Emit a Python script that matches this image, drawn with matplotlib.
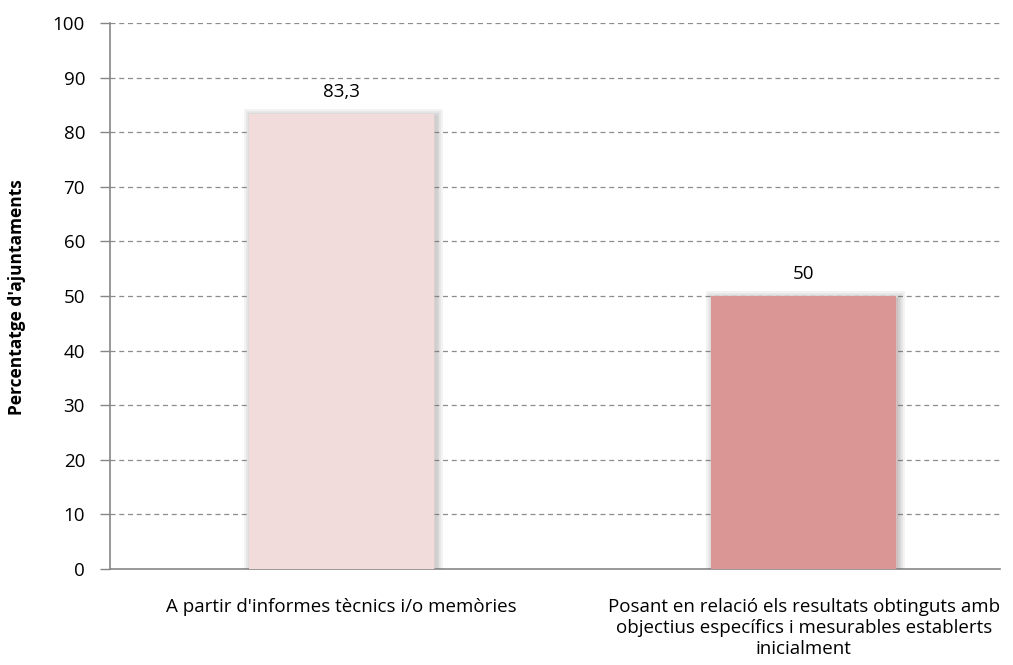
import matplotlib.pyplot as plt
import matplotlib.patheffects as pe

categories = ["A partir d'informes tècnics i/o memòries",
              "Posant en relació els resultats obtinguts amb\nobjectius específics i mesurables establerts\ninicialment"]
values = [83.3, 50]
value_labels = ["83,3", "50"]
colors = ["#F2DCDB", "#D99694"]

plt.rcParams['font.family'] = ['Open Sans', 'DejaVu Sans']

fig = plt.figure(figsize=(10.13, 6.65), dpi=100)
ax = fig.add_axes([110 / 1013, 1 - 569 / 665, 890 / 1013, 546 / 665])

x = list(range(len(categories)))
bars = ax.bar(x, values, width=0.40, color=colors, zorder=3)
# soft drop shadow around each bar
glow = [pe.Stroke(offset=(1.5, -1.5), linewidth=w, foreground='#606060', alpha=0.08)
        for w in (10, 7, 4.5, 2.5)]
for b in bars:
    b.set_path_effects(glow + [pe.Normal()])

for xi, v, lab in zip(x, values, value_labels):
    ax.text(xi, v + 2.4, lab, ha='center', va='bottom', fontsize=13.5, color='#000000')

ax.set_xlim(-0.5, 1.424)
ax.set_ylim(0, 100)
ax.set_yticks(range(0, 101, 10))
for y in range(10, 101, 10):
    ax.axhline(y, color='#8c8c8c', linestyle=(0, (4, 3)), linewidth=0.9, zorder=1)

ax.set_xticks(x)
ax.set_xticklabels(categories, fontsize=13.5, linespacing=1.2)
ax.tick_params(axis='x', length=0, pad=21)
ax.tick_params(axis='y', direction='out', length=7, width=1, color='#868686', labelsize=13.5, pad=11)

for s in ['top', 'right']:
    ax.spines[s].set_visible(False)
for s in ['left', 'bottom']:
    ax.spines[s].set_color('#868686')
    ax.spines[s].set_linewidth(1.2)

fig.text(17 / 1013, 1 - 297 / 665, "Percentatge d'ajuntaments", rotation=90,
         ha='center', va='center', fontsize=12.5, fontweight='bold')

fig.savefig('out.png', dpi=100)
